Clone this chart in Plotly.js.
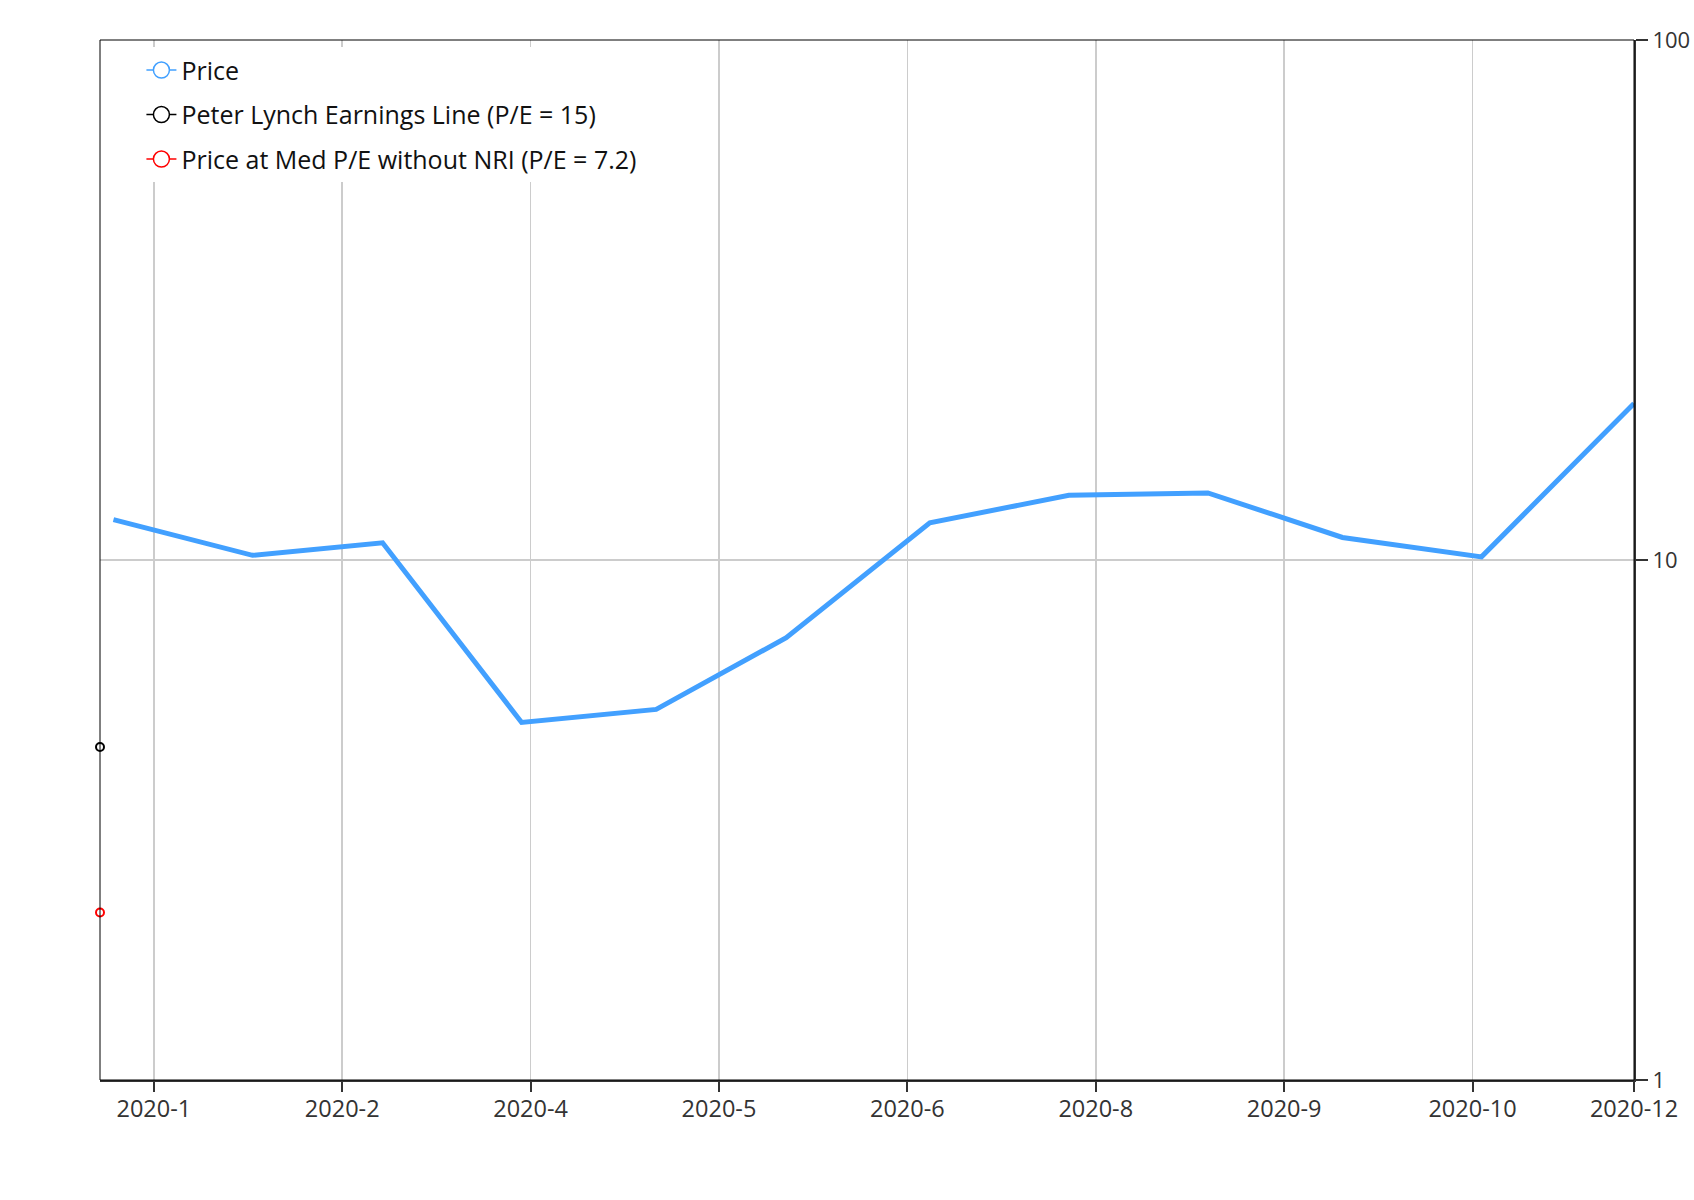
<!DOCTYPE html>
<html>
<head>
<meta charset="utf-8">
<script src="https://cdn.plot.ly/plotly-3.0.1.min.js"></script>
<style>
  html, body { margin: 0; padding: 0; background: #fff; }
  #chart { width: 1694px; height: 1200px; }
</style>
</head>
<body>
<div id="chart"></div>
<script>
// monthly price points (last one is the current date)
var dates = ['2020-01-01', '2020-02-01', '2020-03-01', '2020-04-01', '2020-05-01', '2020-05-30',
             '2020-07-01', '2020-08-01', '2020-09-01', '2020-10-01', '2020-11-01', '2020-12-05'];
var prices = [11.96, 10.21, 10.79, 4.87, 5.16, 7.09, 11.79, 13.32, 13.46, 11.05, 10.14, 20.0];

// single valuation points at the start of the axis
var valueDate = ['2019-12-29'];
var lynchValue = [4.37];
var medPeValue = [2.10];

var tickDates = ['2020-01-10', '2020-02-21', '2020-04-03', '2020-05-15', '2020-06-26',
                 '2020-08-07', '2020-09-18', '2020-10-30', '2020-12-05'];

var names = ['Price', 'Peter Lynch Earnings Line (P/E = 15)', 'Price at Med P/E without NRI (P/E = 7.2)'];
var colors = ['#42a0ff', '#000000', '#ff0000'];

var font = '"Open Sans", "Noto Sans", sans-serif';

// legend-only entries (line + open circle like the original)
var legendTraces = names.map(function (n, i) {
  return {
    x: [null], y: [null],
    type: 'scatter',
    mode: 'lines+markers',
    name: n,
    legendgroup: 'g' + i,
    line: { color: colors[i], width: 1.5 },
    marker: { symbol: 'circle', size: 16, color: '#ffffff', line: { color: colors[i], width: 1.5 } },
    hoverinfo: 'skip'
  };
});

var priceTrace = {
  x: dates, y: prices,
  type: 'scatter', mode: 'lines',
  showlegend: false,
  line: { color: colors[0], width: 5 }
};

function pointTrace(vals, color) {
  return {
    x: valueDate, y: vals,
    type: 'scatter', mode: 'markers',
    showlegend: false,
    cliponaxis: false,
    marker: { symbol: 'circle', size: 8, color: '#ffffff', line: { color: color, width: 2 } }
  };
}

var data = legendTraces.concat([priceTrace, pointTrace(lynchValue, colors[1]), pointTrace(medPeValue, colors[2])]);

var layout = {
  width: 1694,
  height: 1200,
  margin: { l: 100, r: 60, t: 40, b: 120 },
  paper_bgcolor: '#ffffff',
  plot_bgcolor: '#ffffff',
  font: { family: font, size: 22, color: '#333333' },
  showlegend: true,
  legend: {
    x: 0.027, y: 0.993, xanchor: 'left', yanchor: 'top',
    bgcolor: '#ffffff',
    traceorder: 'grouped',
    tracegroupgap: 9,
    font: { family: font, size: 25, color: '#111111' }
  },
  xaxis: {
    type: 'date',
    range: ['2019-12-29', '2020-12-05'],
    tickmode: 'array',
    tickvals: tickDates,
    tickformat: '%Y-%-m',
    showgrid: true,
    gridcolor: '#cccccc',
    gridwidth: 1.5,
    showline: true,
    linecolor: '#333333',
    linewidth: 2,
    ticks: 'outside',
    ticklen: 10,
    tickwidth: 2,
    tickcolor: '#333333',
    ticklabelstandoff: -3,
    tickfont: { family: font, size: 23.5, color: '#333333' },
    zeroline: false
  },
  yaxis: {
    type: 'log',
    range: [0, 2],
    side: 'right',
    dtick: 1,
    showgrid: true,
    gridcolor: '#cccccc',
    gridwidth: 1.5,
    showline: true,
    linecolor: '#333333',
    linewidth: 2,
    ticks: 'outside',
    ticklen: 12,
    tickwidth: 2,
    tickcolor: '#333333',
    tickfont: { family: font, size: 22, color: '#333333' },
    zeroline: false
  },
  shapes: [{
    type: 'rect', xref: 'paper', yref: 'paper',
    x0: 0, x1: 1, y0: 0, y1: 1,
    line: { color: '#000000', width: 1 },
    layer: 'above'
  }]
};

window.addEventListener('load', function () {
  Plotly.newPlot('chart', data, layout, { staticPlot: true });
});
</script>
</body>
</html>
